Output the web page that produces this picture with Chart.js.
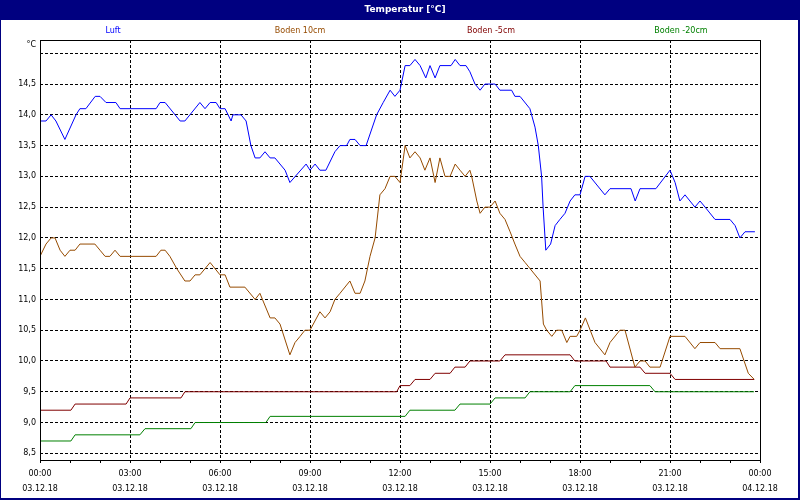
<!DOCTYPE html>
<html>
<head>
<meta charset="utf-8">
<script src="https://cdn.jsdelivr.net/npm/chart.js@4.4.1/dist/chart.umd.min.js"></script>
<style>
html,body{margin:0;padding:0;background:#fff;}
#wrap{width:800px;height:500px;}
</style>
</head>
<body>
<div id="wrap"><canvas id="c" width="800" height="500"></canvas></div>
<script>
// ---- data (hours since 03.12.18 00:00, °C) ----
const seriesNames = ['Luft', 'Boden 10cm', 'Boden -5cm', 'Boden -20cm'];
const seriesColors = ['#0000ff', '#964b00', '#800000', '#008000'];

const luftT = [0,0.2,0.37,0.53,0.83,1.2,1.33,1.53,1.84,2.0,2.2,2.53,2.67,3.87,4.0,4.17,4.67,4.83,5.33,5.5,5.67,5.87,6.0,6.17,6.37,6.43,6.7,6.87,7.03,7.17,7.33,7.5,7.67,7.83,8.17,8.33,8.87,9.0,9.17,9.33,9.53,9.83,10.0,10.22,10.33,10.5,10.67,10.87,11.22,11.44,11.67,11.83,12.0,12.17,12.33,12.5,12.67,12.86,13.0,13.17,13.33,13.7,13.84,14.0,14.2,14.33,14.5,14.67,14.83,15.17,15.33,15.72,15.83,16.0,16.33,16.5,16.61,16.72,16.77,16.86,17.02,17.17,17.33,17.5,17.67,17.83,18.0,18.17,18.33,18.83,19.0,19.7,19.84,20.0,20.53,21.0,21.17,21.33,21.5,21.83,22.0,22.17,22.5,23.0,23.17,23.33,23.5,23.83];
const luftV = [13.9,13.9,14.0,13.9,13.6,14.0,14.1,14.1,14.3,14.3,14.2,14.2,14.1,14.1,14.2,14.2,13.9,13.9,14.2,14.1,14.2,14.2,14.1,14.1,13.9,14.0,14.0,13.9,13.5,13.3,13.3,13.4,13.3,13.3,13.1,12.9,13.2,13.1,13.2,13.1,13.1,13.4,13.5,13.5,13.6,13.6,13.5,13.5,14.0,14.2,14.4,14.3,14.4,14.8,14.8,14.9,14.8,14.6,14.8,14.6,14.8,14.8,14.9,14.8,14.8,14.7,14.5,14.4,14.5,14.5,14.4,14.4,14.3,14.3,14.1,13.8,13.5,13.0,12.5,11.8,11.9,12.2,12.3,12.4,12.6,12.7,12.7,13.0,13.0,12.7,12.8,12.8,12.6,12.8,12.8,13.1,12.9,12.6,12.7,12.5,12.6,12.5,12.3,12.3,12.2,12.0,12.1,12.1];

const boden10T = [0,0.2,0.37,0.5,0.67,0.83,1.0,1.17,1.33,1.83,2.0,2.17,2.33,2.5,2.67,3.87,4.03,4.17,4.33,4.56,4.83,5.0,5.17,5.33,5.67,6.0,6.17,6.33,6.83,7.17,7.33,7.67,7.83,8.0,8.33,8.5,8.67,8.83,9.0,9.33,9.5,9.67,9.83,10.0,10.33,10.5,10.67,10.83,11.0,11.17,11.33,11.5,11.67,11.83,12.0,12.17,12.33,12.5,12.67,12.83,13.0,13.17,13.33,13.5,13.67,13.84,14.0,14.17,14.33,14.39,14.56,14.67,14.83,15.0,15.17,15.33,15.5,15.67,15.83,16.0,16.17,16.67,16.78,16.89,17.06,17.22,17.39,17.56,17.67,17.89,18.0,18.18,18.5,18.83,19.0,19.33,19.5,19.83,20.0,20.17,20.33,20.67,21.0,21.5,21.83,22.0,22.5,22.67,23.33,23.61,23.81];
const boden10V = [11.7,11.9,12.0,12.0,11.8,11.7,11.8,11.8,11.9,11.9,11.8,11.7,11.7,11.8,11.7,11.7,11.8,11.8,11.7,11.5,11.3,11.3,11.4,11.4,11.6,11.4,11.4,11.2,11.2,11.0,11.1,10.7,10.7,10.6,10.1,10.3,10.4,10.5,10.5,10.8,10.7,10.8,11.0,11.1,11.3,11.1,11.1,11.3,11.7,12.0,12.7,12.8,13.0,13.0,12.9,13.5,13.3,13.4,13.3,13.1,13.3,12.9,13.3,13.0,13.0,13.2,13.1,13.0,13.1,13.0,12.6,12.4,12.5,12.5,12.6,12.4,12.3,12.1,11.9,11.7,11.6,11.3,10.6,10.5,10.4,10.5,10.5,10.3,10.4,10.4,10.5,10.7,10.3,10.1,10.3,10.5,10.5,9.9,10.0,10.0,9.9,9.9,10.4,10.4,10.2,10.3,10.3,10.2,10.2,9.8,9.7];

const boden5T = [0,1.03,1.17,2.87,3.0,4.7,4.83,11.89,12.0,12.33,12.5,13.0,13.17,13.67,13.83,14.17,14.33,15.33,15.5,17.67,17.83,18.87,19.0,20.0,20.17,21.0,21.17,23.8];
const boden5V = [9.2,9.2,9.3,9.3,9.4,9.4,9.5,9.5,9.6,9.6,9.7,9.7,9.8,9.8,9.9,9.9,10.0,10.0,10.1,10.1,10.0,10.0,9.9,9.9,9.8,9.8,9.7,9.7];

const boden20T = [0,1.03,1.17,3.33,3.5,5.03,5.17,7.53,7.67,12.17,12.33,13.83,14.0,15.0,15.17,16.17,16.33,17.67,17.83,20.33,20.5,23.8];
const boden20V = [8.7,8.7,8.8,8.8,8.9,8.9,9.0,9.0,9.1,9.1,9.2,9.2,9.3,9.3,9.4,9.4,9.5,9.5,9.6,9.6,9.5,9.5];

const yTicks = [8.5,9.0,9.5,10.0,10.5,11.0,11.5,12.0,12.5,13.0,13.5,14.0,14.5,15.0];
const xTickHours = [0,3,6,9,12,15,18,21,24];
const xTickTimes = ['00:00','03:00','06:00','09:00','12:00','15:00','18:00','21:00','00:00'];
const xTickDates = ['03.12.18','03.12.18','03.12.18','03.12.18','03.12.18','03.12.18','03.12.18','03.12.18','04.12.18'];

const pts = (t, v) => t.map((h, i) => ({x: h, y: v[i]}));
const allT = [luftT, boden10T, boden5T, boden20T];
const allV = [luftV, boden10V, boden5V, boden20V];

const FONT = 'DejaVu Sans';

const decor = {
  id: 'decor',
  beforeDraw(chart) {
    const ctx = chart.ctx;
    ctx.save();
    ctx.fillStyle = '#ffffff';
    ctx.fillRect(0, 0, 800, 500);
    ctx.fillStyle = '#000080';
    ctx.fillRect(0, 0, 800, 20);
    ctx.fillStyle = '#ffffff';
    ctx.font = 'bold 9px "' + FONT + '"';
    ctx.textAlign = 'center';
    ctx.textBaseline = 'middle';
    ctx.fillText('Temperatur [°C]', 405, 10);
    ctx.font = '8px "' + FONT + '"';
    const lx = [113, 300, 491, 681];
    seriesNames.forEach((n, i) => {
      ctx.fillStyle = seriesColors[i];
      ctx.fillText(n, lx[i], 31);
    });
    ctx.fillStyle = '#000000';
    ctx.textAlign = 'right';
    ctx.fillText('°C', 36, 45);
    ctx.restore();
  },
  afterDraw(chart) {
    const ctx = chart.ctx;
    const a = chart.chartArea;
    ctx.save();
    ctx.strokeStyle = '#000000';
    ctx.lineWidth = 1;
    ctx.strokeRect(Math.round(a.left) + 0.5, Math.round(a.top) + 0.5, Math.round(a.right - a.left), Math.round(a.bottom - a.top));
    ctx.fillStyle = '#000080';
    ctx.fillRect(0, 0, 1, 500);
    ctx.fillRect(798, 0, 2, 500);
    ctx.fillRect(0, 498, 800, 2);
    ctx.restore();
  }
};

new Chart(document.getElementById('c'), {
  type: 'line',
  data: {
    datasets: seriesNames.map((n, i) => ({
      label: n,
      data: pts(allT[i], allV[i]),
      borderColor: seriesColors[i],
      backgroundColor: seriesColors[i],
      borderWidth: 1,
      pointRadius: 0,
      tension: 0,
      fill: false
    }))
  },
  options: {
    responsive: false,
    devicePixelRatio: 1,
    animation: false,
    events: [],
    layout: {padding: {top: 40, right: 40, left: 0, bottom: 0}},
    plugins: {legend: {display: false}, title: {display: false}, tooltip: {enabled: false}},
    scales: {
      x: {
        type: 'linear',
        min: 0,
        max: 24,
        afterBuildTicks: s => { const t = []; for (let h = 0; h <= 24; h++) t.push({value: h}); s.ticks = t; },
        afterFit: s => { s.height = 40; },
        border: {display: false, dash: [3, 2]},
        grid: {
          color: c => { const v = c.tick ? c.tick.value : 0; return (v % 3 === 0 && v !== 0 && v !== 24) ? '#000000' : 'rgba(0,0,0,0)'; },
          tickColor: '#000000',
          tickLength: 3,
          lineWidth: 1
        },
        ticks: {
          autoSkip: false,
          maxRotation: 0,
          padding: 3,
          color: '#000000',
          font: {family: FONT, size: 8, lineHeight: 1.875},
          callback: v => { const i = xTickHours.indexOf(v); return i < 0 ? '' : [xTickTimes[i], xTickDates[i]]; }
        }
      },
      y: {
        type: 'linear',
        min: 8.391,
        max: 15.216,
        afterBuildTicks: s => { s.ticks = yTicks.map(v => ({value: v})); },
        afterFit: s => { s.width = 40; },
        border: {display: false, dash: [3, 2]},
        grid: {color: '#000000', lineWidth: 1, drawTicks: false},
        ticks: {
          padding: 4,
          color: '#000000',
          font: {family: FONT, size: 8},
          callback: v => v === 15 ? '' : v.toFixed(1).replace('.', ',')
        }
      }
    }
  },
  plugins: [decor]
});
</script>
</body>
</html>
